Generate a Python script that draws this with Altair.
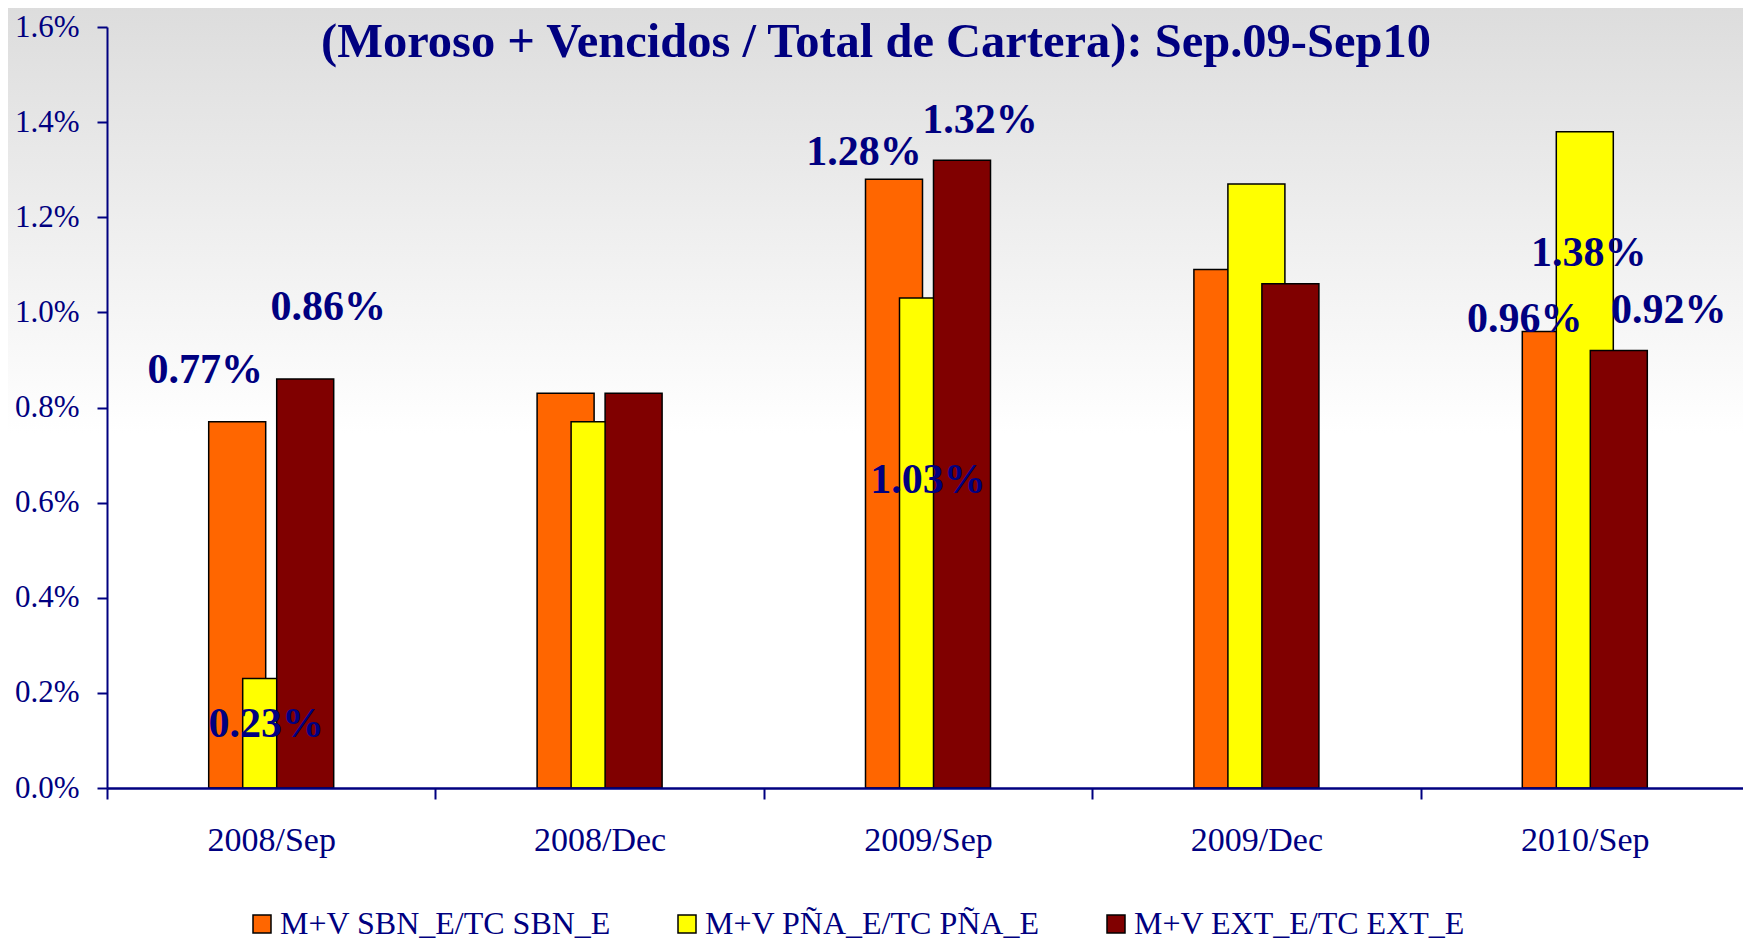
import altair as alt
import pandas as pd

# ---- data ----
categories = ["2008/Sep", "2008/Dec", "2009/Sep", "2009/Dec", "2010/Sep"]
series = ["M+V SBN_E/TC SBN_E", "M+V PÑA_E/TC PÑA_E", "M+V EXT_E/TC EXT_E"]
sbn_values = [0.0077, 0.0083, 0.0128, 0.0109, 0.0096]
pna_values = [0.0023, 0.0077, 0.0103, 0.0127, 0.0138]
ext_values = [0.0086, 0.0083, 0.0132, 0.0106, 0.0092]
labeled_categories = ["2008/Sep", "2009/Sep", "2010/Sep"]
y_tick_values = [0.0, 0.002, 0.004, 0.006, 0.008, 0.010, 0.012, 0.014, 0.016]
title_text = "(Moroso + Vencidos / Total de Cartera): Sep.09-Sep10"

# ---- styles ----
colors = ["#FF6600", "#FFFF00", "#800000"]
NAVY = "#000080"
FONT = "Liberation Serif"
BAR_WIDTH = 57
BAR_SHIFT = [-34, 0, 34]
# label placement (dx from category centre, dy from bar top), per series, for labelled categories
LABEL_SHIFT = {
    ("2008/Sep", 0): (-66, -52),
    ("2008/Sep", 1): (-5, 45),
    ("2008/Sep", 2): (57, -72),
    ("2009/Sep", 0): (-64, -27),
    ("2009/Sep", 1): (0, 182),
    ("2009/Sep", 2): (52, -40),
    ("2010/Sep", 0): (-60, -12),
    ("2010/Sep", 1): (4, 121),
    ("2010/Sep", 2): (84, -40),
}

all_values = [sbn_values, pna_values, ext_values]
rows = []
for si, s in enumerate(series):
    for ci, c in enumerate(categories):
        rows.append({"category": c, "series": s, "value": all_values[si][ci]})
df = pd.DataFrame(rows)

W, H = 1636, 761          # visible plot area (the page ends before the axis does)
X_RANGE = 1642            # full category axis length, partly past the page edge
TOP = 19

x_enc = alt.X(
    "category:N",
    sort=categories,
    scale=alt.Scale(paddingInner=0, paddingOuter=0, range=[0, X_RANGE]),
    axis=alt.Axis(
        title=None, labelAngle=0, tickBand="extent",
        domainColor=NAVY, domainWidth=2.5, tickColor=NAVY, tickWidth=2, tickSize=11,
        labelFont=FONT, labelFontSize=34, labelColor=NAVY, labelPadding=24, zindex=1,
    ),
)
y_enc = alt.Y(
    "value:Q",
    scale=alt.Scale(domain=[0, 0.016], nice=False, zero=True),
    axis=alt.Axis(
        title=None, values=y_tick_values, format=".1%", grid=False,
        domainColor=NAVY, domainWidth=2, tickColor=NAVY, tickWidth=2, tickSize=10,
        labelFont=FONT, labelFontSize=31, labelColor=NAVY, labelPadding=18,
        labelFlush=False, labelOverlap=False, zindex=1,
    ),
)

color_enc = alt.Color(
    "series:N",
    scale=alt.Scale(domain=series, range=colors),
    legend=alt.Legend(
        title=None, orient="none", legendX=139, legendY=881, direction="horizontal",
        symbolType="square", symbolSize=324, symbolStrokeColor="black", symbolStrokeWidth=1.5,
        symbolOpacity=1, labelFont=FONT, labelFontSize=32, labelColor=NAVY,
        labelOffset=2, columnPadding=60, padding=0, labelLimit=0,
    ),
)

gradient = alt.LinearGradient(
    gradient="linear", x1=0, y1=0, x2=0, y2=1,
    stops=[
        alt.GradientStop(offset=0, color="#dcdcdc"),
        alt.GradientStop(offset=0.55, color="#ffffff"),
        alt.GradientStop(offset=1, color="#ffffff"),
    ],
)
background = alt.Chart(alt.Data(values=[{}])).mark_rect(fill=gradient, strokeWidth=0).encode(
    x=alt.value(-110), x2=alt.value(W + 10), y=alt.value(-TOP - 8), y2=alt.value(H)
)

base = alt.Chart(df)
layers = [background]
for si, s in enumerate(series):
    layers.append(
        base.transform_filter(alt.datum.series == s)
        .mark_bar(width=BAR_WIDTH, xOffset=BAR_SHIFT[si], stroke="black", strokeWidth=1.5)
        .encode(x=x_enc, y=y_enc, color=color_enc)
    )
for (c, si), (dx, dy) in LABEL_SHIFT.items():
    layers.append(
        base.transform_filter((alt.datum.series == series[si]) & (alt.datum.category == c))
        .mark_text(font=FONT, fontSize=42, fontWeight="bold", color=NAVY,
                   align="center", baseline="middle", dx=dx, dy=dy)
        .encode(x=x_enc, y=y_enc, text=alt.Text("value:Q", format=".2%"))
    )

chart = alt.layer(*layers).properties(
    width=W, height=H,
    autosize=alt.AutoSizeParams(type="none"),
    padding={"left": 99, "top": TOP, "right": 0, "bottom": 155},
    title=alt.TitleParams(
        text=title_text, font=FONT, fontSize=48.5, fontWeight="bold", color=NAVY,
        anchor="middle", dx=-49, offset=-67, zindex=1,
    ),
).configure_view(stroke=None).configure(background="white")

chart.save("out.html", embed_options={"renderer": "svg", "actions": False})
